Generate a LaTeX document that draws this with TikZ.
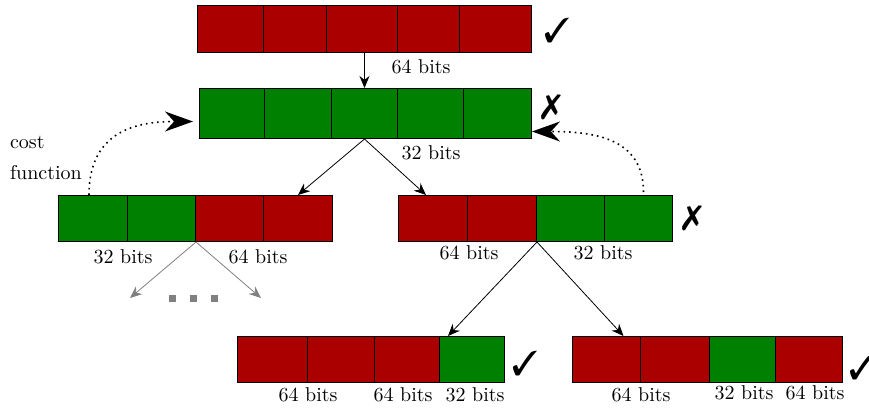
\documentclass[tikz,border=0pt]{standalone}
\usepackage{amsmath,amssymb}
\usepackage{pifont}
\usetikzlibrary{arrows.meta,calc}
\definecolor{bitred}{RGB}{170,0,0}
\definecolor{bitgreen}{RGB}{0,128,0}
\tikzset{
  cell/.style={draw=black, line width=0.5pt, anchor=north west, inner sep=0pt},
  verdict/.style={font=\LARGE},
  costarrow/.style={thick, dotted, -{Stealth[length=14pt,width=10pt]}}
}

\begin{document}
\begin{tikzpicture}[x=0.5pt, y=-0.5pt, >={Stealth[length=6pt,width=5pt]}]
  \useasboundingbox (0,0) rectangle (869,408);
  % rows of cells
  \foreach \n/\a/\b/\c in {1/197/263/bitred,2/263/326/bitred,3/326/397/bitred,4/397/459/bitred,5/459/531/bitred}
    \node[cell, fill=\c, minimum width=(\b-\a)*0.5pt, minimum height=23.5pt] (top\n) at (\a,5) {};
  \foreach \n/\a/\b/\c in {1/199/264/bitgreen,2/264/331/bitgreen,3/331/397/bitgreen,4/397/463/bitgreen,5/463/531/bitgreen}
    \node[cell, fill=\c, minimum width=(\b-\a)*0.5pt, minimum height=25pt] (mid\n) at (\a,88) {};
  \foreach \n/\a/\b/\c in {1/58/127/bitgreen,2/127/195/bitgreen,3/195/263/bitred,4/263/332/bitred}
    \node[cell, fill=\c, minimum width=(\b-\a)*0.5pt, minimum height=23pt] (left\n) at (\a,195) {};
  \foreach \n/\a/\b/\c in {1/398/467/bitred,2/467/536/bitred,3/536/604/bitgreen,4/604/672/bitgreen}
    \node[cell, fill=\c, minimum width=(\b-\a)*0.5pt, minimum height=23pt] (right\n) at (\a,195) {};
  \foreach \n/\a/\b/\c in {1/237/307/bitred,2/307/374/bitred,3/374/439/bitred,4/439/504/bitgreen}
    \node[cell, fill=\c, minimum width=(\b-\a)*0.5pt, minimum height=23pt] (bl\n) at (\a,336) {};
  \foreach \n/\a/\b/\c in {1/572/640/bitred,2/640/709/bitred,3/709/775/bitgreen,4/775/842/bitred}
    \node[cell, fill=\c, minimum width=(\b-\a)*0.5pt, minimum height=23pt] (br\n) at (\a,336) {};

  % labels
  \node (lt) at (421,67) {64 bits};
  \node (lm) at (431,153) {32 bits};
  \node (ll1) at (123,257) {32 bits};
  \node (ll2) at (258,257) {64 bits};
  \node (lr1) at (469,253) {64 bits};
  \node (lr2) at (603,253) {32 bits};
  \node (lbl1) at (308,395) {64 bits};
  \node (lbl2) at (403,395) {64 bits};
  \node (lbl3) at (475,395) {32 bits};
  \node (lbr1) at (641,395) {64 bits};
  \node (lbr2) at (744,393) {32 bits};
  \node (lbr3) at (815,393) {64 bits};
  \node[align=left, anchor=west] (cost) at (3,158) {cost\\[3.5pt]function};

  % checks and crosses
  \node[verdict] (ok1) at (557,30) {\ding{51}};
  \node[verdict] (no1) at (551,107) {\ding{55}};
  \node[verdict] (no2) at (692,218) {\ding{55}};
  \node[verdict] (ok2) at (525,363) {\ding{51}};
  \node[verdict] (ok3) at (862,367) {\ding{51}};

  % arrows
  \draw[->] (mid3.north |- top3.south) -- (mid3.north);
  \draw[->] (mid3.south) -- (left4.north);
  \draw[->] (mid3.south) -- ($(right1.north)+(-7,0)$);
  \draw[->] (right2.south east) -- ($(bl4.north west)+(9,0)$);
  \draw[->] (right2.south east) -- ($(br1.north)+(17,0)$);
  \coordinate (gl) at (130,298);
  \coordinate (gr) at (261,298);
  \draw[->, gray] (left2.south east) -- (gl);
  \draw[->, gray] (left2.south east) -- (gr);
  \foreach \x in {172,193,214}
    \fill[gray] (\x-3.5,295) rectangle (\x+3.5,302);

  % cost function arrows
  \draw[costarrow] ($(left1.north)+(-4,0)$) .. controls +(0,-65) and +(-55,0) .. ($(mid1.west)+(-6,8)$);
  \draw[costarrow] ($(right4.north)+(5,-3)$) .. controls +(0,-55) and +(60,0) .. ($(mid5.east)+(0,18)$);
\end{tikzpicture}
\end{document}
